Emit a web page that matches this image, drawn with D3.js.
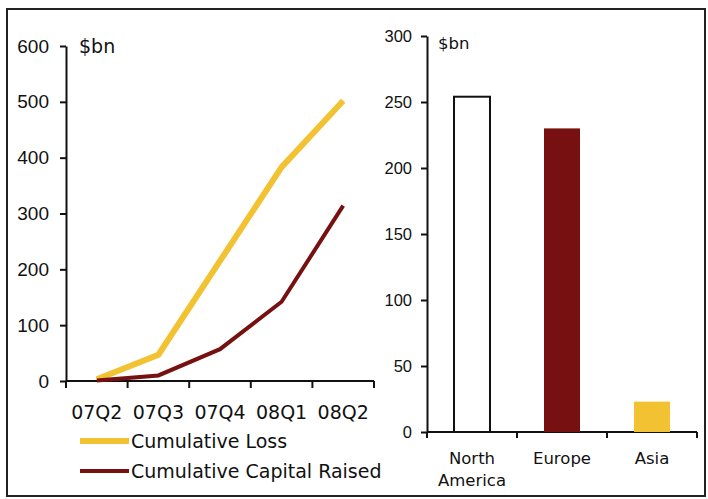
<!DOCTYPE html>
<html>
<head>
<meta charset="utf-8">
<script src="https://cdn.jsdelivr.net/npm/d3@7"></script>
<style>
  html, body { margin: 0; padding: 0; background: #fff; }
  svg { display: block; font-family: "DejaVu Sans", Verdana, sans-serif; }
</style>
</head>
<body>
<svg id="chart" width="708" height="499"></svg>
<script>
// Cumulative loss vs. capital raised by quarter ($bn)
const quarters = ["07Q2", "07Q3", "07Q4", "08Q1", "08Q2"];
const cumulativeLoss = [3, 47, 215, 383, 502];
const cumulativeCapital = [1, 10, 57, 142, 314];
const lineTicks = [0, 100, 200, 300, 400, 500, 600];

// Losses by region ($bn)
const regions = [["North", "America"], ["Europe"], ["Asia"]];
const regionLoss = [254, 230, 23];
const barTicks = [0, 50, 100, 150, 200, 250, 300];

const YELLOW = "#f2c232";
const MAROON = "#771010";
const INK = "#111";
const FS_L = 19;
const FS_R = 16.5;

const svg = d3.select("#chart");

// outer frame
svg.append("rect")
  .attr("x", 7).attr("y", 9).attr("width", 698).attr("height", 487)
  .attr("fill", "none").attr("stroke", "#222").attr("stroke-width", 2);

// ---------- left panel: lines ----------
const xL = d3.scaleBand().domain(quarters).range([66, 374]);
const yL = d3.scaleLinear().domain([0, 600]).range([381, 46]);

const gL = svg.append("g");

const yAxisL = d3.axisLeft(yL).tickValues(lineTicks).tickSize(6).tickSizeOuter(0).tickPadding(11);
gL.append("g").attr("transform", "translate(66,0)").call(yAxisL)
  .call(g => g.selectAll("text").attr("font-size", FS_L).attr("fill", INK).attr("font-family", null))
  .call(g => g.selectAll("line,path").attr("stroke", INK).attr("stroke-width", 2));

// x axis line and boundary ticks
const boundsL = quarters.map(q => xL(q)).concat([xL.range()[1]]);
gL.append("line").attr("x1", 66).attr("x2", 374).attr("y1", yL(0)).attr("y2", yL(0))
  .attr("stroke", INK).attr("stroke-width", 2);
gL.selectAll("line.tk").data(boundsL).join("line").attr("class", "tk")
  .attr("x1", d => d).attr("x2", d => d).attr("y1", yL(0)).attr("y2", yL(0) + 7)
  .attr("stroke", INK).attr("stroke-width", 2);
gL.selectAll("text.xl").data(quarters).join("text").attr("class", "xl")
  .attr("x", d => xL(d) + xL.bandwidth() / 2).attr("y", 412)
  .attr("text-anchor", "middle").attr("dominant-baseline", "central")
  .attr("font-size", FS_L).attr("fill", INK).text(d => d);

gL.append("text").attr("x", 79).attr("y", 46).attr("dominant-baseline", "central")
  .attr("font-size", FS_L).attr("fill", INK).text("$bn");

const lineGen = d3.line()
  .x((d, i) => xL(quarters[i]) + xL.bandwidth() / 2)
  .y(d => yL(d));

gL.append("path").datum(cumulativeLoss).attr("d", lineGen)
  .attr("fill", "none").attr("stroke", YELLOW).attr("stroke-width", 6);
gL.append("path").datum(cumulativeCapital).attr("d", lineGen)
  .attr("fill", "none").attr("stroke", MAROON).attr("stroke-width", 4);

// legend
const legend = [
  { label: "Cumulative Loss", color: YELLOW, w: 6, y: 441 },
  { label: "Cumulative Capital Raised", color: MAROON, w: 4, y: 471 }
];
const lg = gL.selectAll("g.lg").data(legend).join("g").attr("class", "lg");
lg.append("line").attr("x1", 80).attr("x2", 129).attr("y1", d => d.y).attr("y2", d => d.y)
  .attr("stroke", d => d.color).attr("stroke-width", d => d.w);
lg.append("text").attr("x", 131).attr("y", d => d.y).attr("dominant-baseline", "central")
  .attr("font-size", FS_L).attr("fill", INK).text(d => d.label);

// ---------- right panel: bars ----------
const regionKeys = regions.map(r => r.join(" "));
const xR = d3.scaleBand().domain(regionKeys).range([427, 697]);
const yR = d3.scaleLinear().domain([0, 300]).range([432, 36]);
const gR = svg.append("g");

const yAxisR = d3.axisLeft(yR).tickValues(barTicks).tickSize(6).tickSizeOuter(0).tickPadding(9);
gR.append("g").attr("transform", "translate(427,0)").call(yAxisR)
  .call(g => g.selectAll("text").attr("font-size", FS_R).attr("fill", INK).attr("font-family", null))
  .call(g => g.selectAll("line,path").attr("stroke", INK).attr("stroke-width", 2));

const boundsR = regionKeys.map(k => xR(k)).concat([xR.range()[1]]);
gR.append("line").attr("x1", 427).attr("x2", 697).attr("y1", yR(0)).attr("y2", yR(0))
  .attr("stroke", INK).attr("stroke-width", 2);
gR.selectAll("line.tk").data(boundsR).join("line").attr("class", "tk")
  .attr("x1", d => d).attr("x2", d => d).attr("y1", yR(0)).attr("y2", yR(0) + 6)
  .attr("stroke", INK).attr("stroke-width", 2);

const barColors = ["#fff", MAROON, YELLOW];
const barW = xR.bandwidth() * 0.4;
gR.selectAll("rect.bar").data(regionLoss).join("rect").attr("class", "bar")
  .attr("x", (d, i) => xR(regionKeys[i]) + (xR.bandwidth() - barW) / 2)
  .attr("y", d => yR(d))
  .attr("width", barW)
  .attr("height", d => yR(0) - yR(d))
  .attr("fill", (d, i) => barColors[i])
  .attr("stroke", (d, i) => i === 0 ? INK : "none")
  .attr("stroke-width", 2);

const xlab = gR.selectAll("text.xl").data(regions).join("text").attr("class", "xl")
  .attr("x", (d, i) => xR(regionKeys[i]) + xR.bandwidth() / 2)
  .attr("y", 458).attr("text-anchor", "middle").attr("dominant-baseline", "central")
  .attr("font-size", FS_R).attr("fill", INK);
xlab.selectAll("tspan").data(d => d).join("tspan")
  .attr("x", function () { return this.parentNode.getAttribute("x"); })
  .attr("dy", (d, i) => i === 0 ? 0 : 22).text(d => d);

gR.append("text").attr("x", 438).attr("y", 43).attr("dominant-baseline", "central")
  .attr("font-size", FS_R).attr("fill", INK).text("$bn");
</script>
</body>
</html>
